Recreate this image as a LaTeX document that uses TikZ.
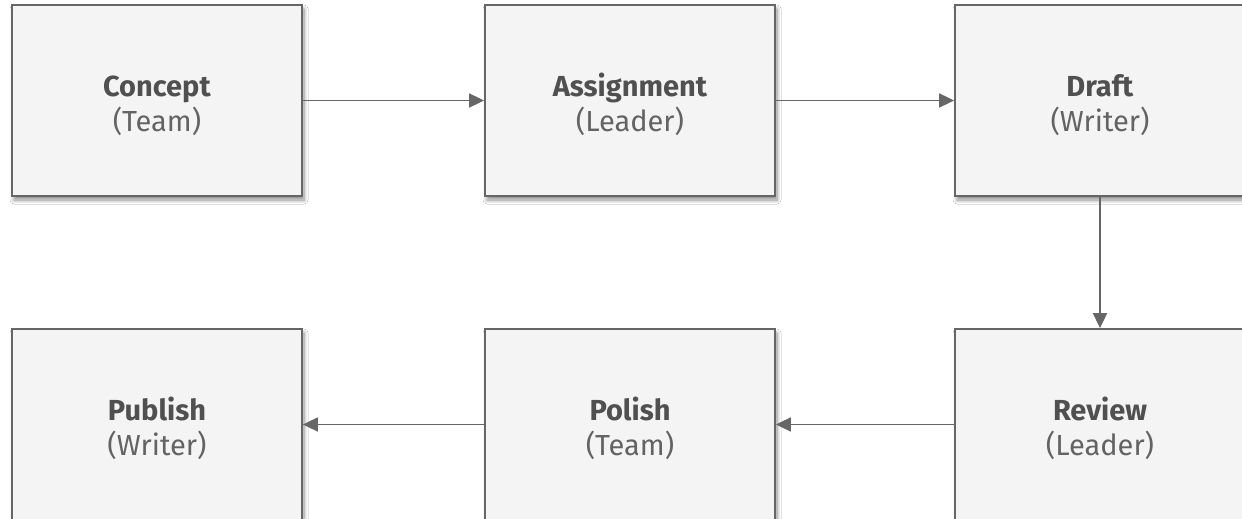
\documentclass[tikz,border=0pt]{standalone}
\usepackage{fontspec}
\setmainfont{Fira Sans}
\usetikzlibrary{arrows.meta,shadows.blur}
\definecolor{boxfill}{HTML}{F4F4F4}
\definecolor{boxline}{HTML}{666666}
\definecolor{textgray}{HTML}{505050}
\definecolor{subgray}{HTML}{636363}
\tikzset{
  stepbox/.style={draw=boxline, line width=1.8pt, fill=boxfill,
    minimum width=290pt, minimum height=191pt, inner sep=0pt,
    text=textgray, font=\fontsize{29}{34}\selectfont,
    blur shadow={shadow xshift=2pt, shadow yshift=-4pt,
      shadow blur radius=4pt, shadow blur steps=8, shadow opacity=45}},
  flow/.style={draw=boxline, line width=1.8pt,
    -{Triangle[length=15pt,width=14pt]}}
}
% two-line caption: bold step name over the role in parentheses
\newcommand{\steplabel}[2]{\raisebox{-13pt}[0pt][0pt]{\begin{tabular}{@{}c@{}}%
  \textbf{#1}\\\textcolor{subgray}{(#2)}\end{tabular}}}
\begin{document}
\begin{tikzpicture}[x=1pt,y=-1pt]
  \clip (0,0) rectangle (1242,519);
  \fill[white] (0,0) rectangle (1242,519);
  \node[stepbox] (concept) at (157,100.5) {\steplabel{Concept}{Team}};
  \node[stepbox] (assign)  at (630,100.5) {\steplabel{Assignment}{Leader}};
  \node[stepbox] (draft)   at (1100,100.5) {\steplabel{Draft}{Writer}};
  \node[stepbox] (review)  at (1100,424.5) {\steplabel{Review}{Leader}};
  \node[stepbox] (polish)  at (630,424.5) {\steplabel{Polish}{Team}};
  \node[stepbox] (publish) at (157,424.5) {\steplabel{Publish}{Writer}};
  \draw[flow] (concept) -- (assign);
  \draw[flow] (assign) -- (draft);
  \draw[flow] (draft) -- (review);
  \draw[flow] (review) -- (polish);
  \draw[flow] (polish) -- (publish);
\end{tikzpicture}
\end{document}
